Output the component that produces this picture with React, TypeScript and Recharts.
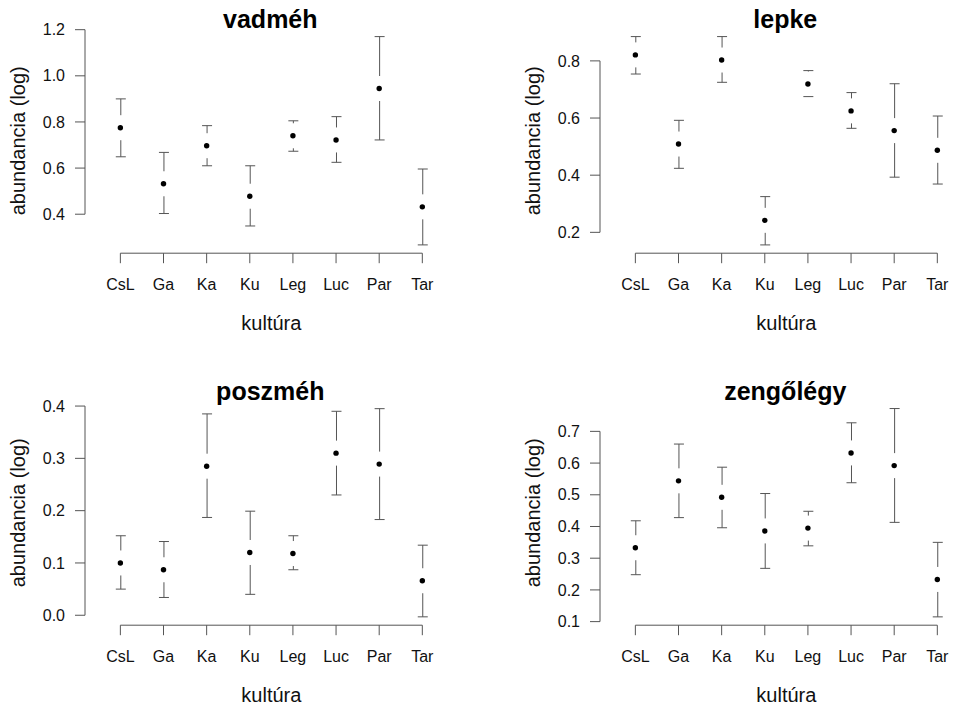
import React from 'react';
import { ComposedChart, Bar, Scatter, XAxis, YAxis, ReferenceLine } from 'recharts';

const cultures = ['CsL', 'Ga', 'Ka', 'Ku', 'Leg', 'Luc', 'Par', 'Tar'];

// vadméh
const vadmehMean = [0.775, 0.532, 0.697, 0.478, 0.74, 0.722, 0.945, 0.432];
const vadmehLow = [0.649, 0.403, 0.61, 0.349, 0.673, 0.625, 0.722, 0.267];
const vadmehHigh = [0.9, 0.668, 0.784, 0.61, 0.805, 0.823, 1.17, 0.596];
const vadmehTicks = [0.4, 0.6, 0.8, 1.0, 1.2];

// lepke
const lepkeMean = [0.821, 0.509, 0.803, 0.242, 0.719, 0.625, 0.556, 0.487];
const lepkeLow = [0.754, 0.424, 0.725, 0.156, 0.675, 0.564, 0.393, 0.369];
const lepkeHigh = [0.885, 0.592, 0.885, 0.325, 0.766, 0.689, 0.72, 0.607];
const lepkeTicks = [0.2, 0.4, 0.6, 0.8];

// poszméh
const poszmehMean = [0.1, 0.087, 0.285, 0.12, 0.118, 0.31, 0.289, 0.066];
const poszmehLow = [0.05, 0.034, 0.187, 0.04, 0.087, 0.23, 0.183, -0.003];
const poszmehHigh = [0.152, 0.141, 0.385, 0.199, 0.152, 0.39, 0.395, 0.134];
const poszmehTicks = [0.0, 0.1, 0.2, 0.3, 0.4];

// zengőlégy
const zengoMean = [0.333, 0.544, 0.492, 0.386, 0.395, 0.632, 0.592, 0.233];
const zengoLow = [0.248, 0.428, 0.396, 0.268, 0.339, 0.538, 0.413, 0.115];
const zengoHigh = [0.418, 0.66, 0.587, 0.504, 0.448, 0.727, 0.772, 0.35];
const zengoTicks = [0.1, 0.2, 0.3, 0.4, 0.5, 0.6, 0.7];

const font = '"Liberation Sans", Arial, Helvetica, sans-serif';
const lineColor = '#555';
const textColor = '#111';
const xDomain: [number, number] = [0.18, 8.82];

const buildData = (mean: number[], lo: number[], hi: number[]) =>
  cultures.map((name, i) => ({ x: i + 1, name, mean: mean[i], lo: lo[i], hi: hi[i] }));

const panels = [
  { title: 'vadméh', data: buildData(vadmehMean, vadmehLow, vadmehHigh), domain: [0.231, 1.206], ticks: vadmehTicks, left: 0, top: 0 },
  { title: 'lepke', data: buildData(lepkeMean, lepkeLow, lepkeHigh), domain: [0.127, 0.914], ticks: lepkeTicks, left: 514.6, top: 0 },
  { title: 'poszméh', data: buildData(poszmehMean, poszmehLow, poszmehHigh), domain: [-0.019, 0.411], ticks: poszmehTicks, left: 0, top: 372 },
  { title: 'zengőlégy', data: buildData(zengoMean, zengoLow, zengoHigh), domain: [0.0887, 0.798], ticks: zengoTicks, left: 514.6, top: 372 },
];

// interval with a gap around the mean, like gplots::plotCI
function CiShape(props: any) {
  const { x, y, width, height, payload } = props;
  if (x == null || y == null || !payload) return null;
  const cx = x + width / 2;
  const top = Math.min(y, y + height);
  const bottom = Math.max(y, y + height);
  const cy = top + ((payload.hi - payload.mean) / (payload.hi - payload.lo)) * (bottom - top);
  const gap = 12.5;
  const cap = 5;
  return (
    <g stroke={lineColor} strokeWidth={1} fill="none">
      <line x1={cx - cap} x2={cx + cap} y1={top} y2={top} />
      {cy - gap > top && <line x1={cx} x2={cx} y1={top} y2={cy - gap} />}
      {cy + gap < bottom && <line x1={cx} x2={cx} y1={cy + gap} y2={bottom} />}
      <line x1={cx - cap} x2={cx + cap} y1={bottom} y2={bottom} />
    </g>
  );
}

function YTitle(props: any) {
  const vb = props.viewBox || {};
  const x = (vb.x ?? 0) + 25;
  const y = (vb.y ?? 28.3) + (vb.height ?? 224.9) / 2;
  return (
    <text x={x} y={y} transform={`rotate(-90, ${x}, ${y})`} textAnchor="middle" fontSize={20} fill={textColor}>
      abundancia (log)
    </text>
  );
}

function XTitle(props: any) {
  const vb = props.viewBox || {};
  const x = (vb.x ?? 85) + (vb.width ?? 372.7) / 2;
  const y = (vb.y ?? 253.2) + 77;
  return (
    <text x={x} y={y} textAnchor="middle" fontSize={20} fill={textColor}>
      kultúra
    </text>
  );
}

function Panel({ p }: { p: (typeof panels)[number] }) {
  const [lo, hi] = p.domain;
  return (
    <div style={{ position: 'absolute', left: p.left, top: p.top }}>
      <ComposedChart width={478} height={334} data={p.data} margin={{ top: 28.3, right: 20.3, bottom: 0, left: 0 }}>
        <XAxis
          type="number"
          dataKey="x"
          domain={xDomain}
          ticks={[1, 2, 3, 4, 5, 6, 7, 8]}
          interval={0}
          tickFormatter={(v: number) => cultures[v - 1]}
          axisLine={false}
          stroke={lineColor}
          tickSize={10}
          tickMargin={15}
          height={80.8}
          tick={{ fontSize: 16, fill: textColor }}
          label={<XTitle />}
        />
        <YAxis
          type="number"
          domain={[lo, hi]}
          ticks={p.ticks}
          interval={0}
          tickFormatter={(v: number) => v.toFixed(1)}
          axisLine={false}
          stroke={lineColor}
          tickSize={10}
          tickMargin={10}
          width={85}
          tick={{ fontSize: 16, fill: textColor }}
          label={<YTitle />}
        />
        <ReferenceLine
          segment={[{ x: 1, y: lo }, { x: 8, y: lo }]}
          stroke={lineColor}
          ifOverflow="visible"
        />
        <ReferenceLine
          segment={[{ x: xDomain[0], y: p.ticks[0] }, { x: xDomain[0], y: p.ticks[p.ticks.length - 1] }]}
          stroke={lineColor}
          ifOverflow="visible"
        />
        <Bar dataKey={(d: any) => [d.lo, d.hi]} barSize={10} shape={<CiShape />} isAnimationActive={false} />
        <Scatter
          dataKey="mean"
          isAnimationActive={false}
          shape={(s: any) => <circle cx={s.cx} cy={s.cy} r={2.7} fill="#000" />}
        />
      </ComposedChart>
      <svg width={478} height={40} style={{ position: 'absolute', left: 0, top: 0, overflow: 'visible' }}>
        <text x={270.3} y={28} textAnchor="middle" fontSize={25} fontWeight="bold" fill="#000">
          {p.title}
        </text>
      </svg>
    </div>
  );
}

export default function App() {
  return (
    <div
      style={{
        position: 'absolute',
        left: 0,
        top: 0,
        width: 956,
        height: 706,
        overflow: 'hidden',
        background: '#fff',
        fontFamily: font,
      }}
    >
      {panels.map((p) => (
        <Panel key={p.title} p={p} />
      ))}
    </div>
  );
}
